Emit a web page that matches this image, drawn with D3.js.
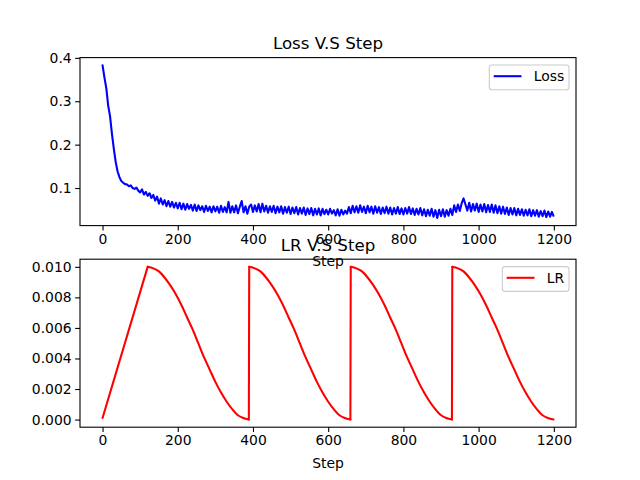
<!DOCTYPE html>
<html>
<head>
<meta charset="utf-8">
<script src="https://cdn.jsdelivr.net/npm/d3@7"></script>
<style>
  body { margin: 0; background: #fff; }
  svg text { font-family: "DejaVu Sans", sans-serif; fill: #000; }
</style>
</head>
<body>
<svg id="fig" width="640" height="480"></svg>
<script>
// loss, every 5 steps (last point is step 1199)
const lossValues = [
  0.383, 0.355, 0.330, 0.290, 0.265, 0.225, 0.190, 0.160, 0.138, 0.125,
  0.116, 0.112, 0.109, 0.108, 0.104, 0.106, 0.100, 0.098, 0.101, 0.094,
  0.090, 0.097, 0.085, 0.091, 0.082, 0.088, 0.077, 0.084, 0.071, 0.080,
  0.064, 0.076, 0.062, 0.072, 0.058, 0.070, 0.057, 0.068, 0.055, 0.066,
  0.053, 0.066, 0.051, 0.064, 0.050, 0.063, 0.052, 0.061, 0.048, 0.062,
  0.047, 0.060, 0.049, 0.058, 0.045, 0.059, 0.047, 0.057, 0.044, 0.058,
  0.046, 0.057, 0.043, 0.059, 0.045, 0.056, 0.044, 0.068, 0.043, 0.058,
  0.044, 0.060, 0.042, 0.057, 0.070, 0.044, 0.058, 0.041, 0.057, 0.062,
  0.045, 0.060, 0.046, 0.063, 0.044, 0.064, 0.046, 0.059, 0.043, 0.058,
  0.045, 0.059, 0.042, 0.057, 0.044, 0.058, 0.041, 0.056, 0.043, 0.057,
  0.040, 0.055, 0.042, 0.056, 0.039, 0.054, 0.041, 0.055, 0.038, 0.053,
  0.040, 0.054, 0.037, 0.052, 0.039, 0.053, 0.037, 0.052, 0.040, 0.050,
  0.039, 0.052, 0.041, 0.049, 0.037, 0.051, 0.036, 0.050, 0.039, 0.048,
  0.041, 0.056, 0.042, 0.059, 0.044, 0.058, 0.043, 0.060, 0.045, 0.057,
  0.042, 0.059, 0.044, 0.057, 0.041, 0.058, 0.043, 0.056, 0.040, 0.055,
  0.042, 0.057, 0.041, 0.055, 0.039, 0.054, 0.041, 0.056, 0.040, 0.053,
  0.039, 0.054, 0.041, 0.056, 0.040, 0.053, 0.038, 0.052, 0.039, 0.054,
  0.037, 0.051, 0.035, 0.050, 0.036, 0.052, 0.034, 0.049, 0.031, 0.050,
  0.035, 0.051, 0.034, 0.049, 0.036, 0.052, 0.038, 0.060, 0.045, 0.062,
  0.047, 0.065, 0.076, 0.062, 0.048, 0.066, 0.046, 0.063, 0.048, 0.064,
  0.045, 0.062, 0.046, 0.063, 0.044, 0.061, 0.045, 0.062, 0.043, 0.060,
  0.042, 0.058, 0.041, 0.057, 0.040, 0.055, 0.038, 0.054, 0.039, 0.054,
  0.037, 0.052, 0.038, 0.051, 0.036, 0.050, 0.037, 0.051, 0.035, 0.049,
  0.036, 0.049, 0.034, 0.047, 0.035, 0.048, 0.033, 0.046, 0.034, 0.045,
  0.036
];
const lossSteps = lossValues.map((d, i) => Math.min(i * 5, 1199));

// learning rate: linear warmup, then cosine restarts read every 15 steps
const warmSteps = [0, 120];
const warmValues = [0.0001, 0.0100];
const cycleShape = [
  0.0100, 0.0099, 0.0097, 0.0093, 0.0088, 0.0082, 0.0075, 0.0067, 0.0059, 0.0050,
  0.0041, 0.0033, 0.0025, 0.0018, 0.0012, 0.0007, 0.0003, 0.0001, 0.0000
];
const cycleStarts = [120, 390, 660, 930];
const cycleEnds = [389, 659, 929, 1199];

const xTicks = [0, 200, 400, 600, 800, 1000, 1200];
const lossTicks = [0.1, 0.2, 0.3, 0.4];
const lrTicks = [0, 0.002, 0.004, 0.006, 0.008, 0.010];

const lossPieces = [{ curve: d3.curveLinear, pts: lossSteps.map((s, i) => ({ x: s, y: lossValues[i] })) }];

const lrPieces = [{ curve: d3.curveLinear, pts: warmSteps.map((s, i) => ({ x: s, y: warmValues[i] })) }];
cycleStarts.forEach((st, c) => {
  const len = cycleEnds[c] - st;
  lrPieces.push({
    curve: d3.curveMonotoneX,
    pts: cycleShape.map((v, k) => ({ x: st + (len * k) / (cycleShape.length - 1), y: v }))
  });
  if (c < cycleStarts.length - 1) {
    // restart jump
    lrPieces.push({
      curve: d3.curveLinear,
      pts: [{ x: cycleEnds[c], y: cycleShape[cycleShape.length - 1] }, { x: cycleStarts[c + 1], y: cycleShape[0] }]
    });
  }
});

const svg = d3.select("#fig");
const left = 80, right = 576;

function panel(o) {
  const x = d3.scaleLinear().domain([-59.95, 1258.95]).range([left, right]);
  const all = o.pieces.flatMap(p => p.pts);
  const ext = d3.extent(all, d => d.y);
  const pad = (ext[1] - ext[0]) * 0.05;
  const y = d3.scaleLinear().domain([ext[0] - pad, ext[1] + pad]).range([o.bottom, o.top]);

  const g = svg.append("g");

  g.append("g")
    .attr("transform", "translate(0," + o.bottom + ")")
    .call(d3.axisBottom(x).tickValues(xTicks).tickFormat(d3.format("d")).tickSize(4.86).tickPadding(3.5))
    .call(a => a.select(".domain").remove())
    .call(a => a.selectAll("line").attr("stroke", "#000").attr("stroke-width", 1.1))
    .call(a => a.selectAll("text").attr("font-size", "13.9px").attr("fill", "#000"));

  g.append("g")
    .attr("transform", "translate(" + left + ",0)")
    .call(d3.axisLeft(y).tickValues(o.ticks).tickFormat(d3.format(o.fmt)).tickSize(4.86).tickPadding(3.5))
    .call(a => a.select(".domain").remove())
    .call(a => a.selectAll("line").attr("stroke", "#000").attr("stroke-width", 1.1))
    .call(a => a.selectAll("text").attr("font-size", "13.9px").attr("fill", "#000"));

  o.pieces.forEach(p => {
    const line = d3.line().curve(p.curve).x(d => x(d.x)).y(d => y(d.y));
    g.append("path")
      .datum(p.pts)
      .attr("d", line)
      .attr("fill", "none")
      .attr("stroke", o.color)
      .attr("stroke-width", 2.08)
      .attr("stroke-linejoin", "round")
      .attr("stroke-linecap", "round");
  });

  g.append("rect")
    .attr("x", left).attr("y", o.top)
    .attr("width", right - left).attr("height", o.bottom - o.top)
    .attr("fill", "none").attr("stroke", "#000").attr("stroke-width", 1.1);

  g.append("text")
    .attr("x", (left + right) / 2).attr("y", o.top - 8.3)
    .attr("text-anchor", "middle").attr("font-size", "16.67px")
    .text(o.title);

  g.append("text")
    .attr("x", (left + right) / 2).attr("y", o.bottom + 40.5)
    .attr("text-anchor", "middle").attr("font-size", "13.9px")
    .text("Step");

  // legend
  const lg = g.append("g");
  lg.append("rect")
    .attr("x", o.legX).attr("y", o.top + 7.4)
    .attr("width", right - 7 - o.legX).attr("height", 24.8)
    .attr("rx", 2.8)
    .attr("fill", "#fff").attr("fill-opacity", 0.8)
    .attr("stroke", "#ccc").attr("stroke-width", 1.1);
  lg.append("line")
    .attr("x1", o.legX + 4.4).attr("x2", o.legX + 32.2)
    .attr("y1", o.top + 18.6).attr("y2", o.top + 18.6)
    .attr("stroke", o.color).attr("stroke-width", 2.08);
  lg.append("text")
    .attr("x", o.legX + 44.5).attr("y", o.top + 23.6)
    .attr("font-size", "13.9px")
    .text(o.label);
}

panel({ pieces: lossPieces, top: 57.6, bottom: 225.6, ticks: lossTicks, fmt: ".1f",
        color: "blue", title: "Loss V.S Step", label: "Loss", legX: 489.3 });
panel({ pieces: lrPieces, top: 259.2, bottom: 427.2, ticks: lrTicks, fmt: ".3f",
        color: "red", title: "LR V.S Step", label: "LR", legX: 502.3 });
</script>
</body>
</html>
